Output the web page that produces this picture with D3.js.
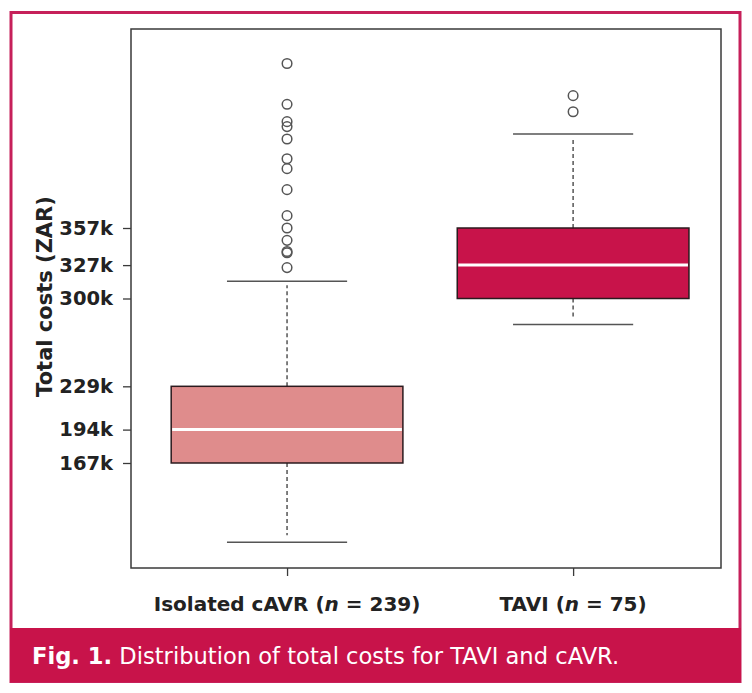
<!DOCTYPE html>
<html><head><meta charset="utf-8">
<script src="https://cdn.jsdelivr.net/npm/d3@7"></script>
<style>
html,body{margin:0;padding:0;background:#fff;}
svg{display:block;font-family:"DejaVu Sans",Arial,Helvetica,sans-serif;}
</style></head>
<body>
<svg id="chart" width="752" height="693"></svg>
<script>
// ---- data (thousand ZAR) ----
const categories = ["Isolated cAVR", "TAVI"];
const sampleSizes = [239, 75];
const q1 = [167, 300];
const medians = [194, 327];
const q3 = [229, 357];
const whiskerLow = [103, 279];
const whiskerHigh = [314, 433];
const outliersCAVR = [490, 457, 443, 439, 429, 413, 405, 388, 367, 357, 347, 338, 337, 325];
const outliersTAVI = [464, 451];
const yTickValues = [167, 194, 229, 300, 327, 357];
const boxColors = ["#df8c8c", "#c8134a"];
const captionBold = "Fig. 1.";
const captionText = " Distribution of total costs for TAVI and cAVR.";
const yLabel = "Total costs (ZAR)";

const outliers = [outliersCAVR, outliersTAVI];
const svg = d3.select("#chart");
const crimson = "#c8134a";
const FONT = "'DejaVu Sans',Arial,sans-serif";

// outer frame and caption band
svg.append("rect").attr("x", 11).attr("y", 12.5).attr("width", 729).attr("height", 669)
  .attr("fill", "none").attr("stroke", "#c6205a").attr("stroke-width", 3);
svg.append("rect").attr("x", 10).attr("y", 628).attr("width", 731).attr("height", 54)
  .attr("fill", crimson);
const cap = svg.append("text").attr("x", 32).attr("y", 664).attr("fill", "#fff")
  .attr("font-size", 22.6).attr("font-family", FONT);
cap.append("tspan").attr("font-weight", "bold").text(captionBold);
cap.append("tspan").text(captionText);

// plot area
const L = 131, R = 721, T = 29, B = 568;
const x = d3.scaleLinear().domain([0.4545, 2.517]).range([L, R]);
const y = d3.scaleLinear().domain([82.1, 517.9]).range([B, T]);
const boxW = 0.81, capW = 0.42;

const g = svg.append("g");

categories.forEach((c, i) => {
  const cx = x(i + 1);
  const grey = "#555";
  // whiskers (dashed)
  g.append("line").attr("x1", cx).attr("x2", cx).attr("y1", y(q3[i])).attr("y2", y(whiskerHigh[i]) + 4)
    .attr("stroke", grey).attr("stroke-width", 1.5).attr("stroke-dasharray", "4,3");
  g.append("line").attr("x1", cx).attr("x2", cx).attr("y1", y(q1[i])).attr("y2", y(whiskerLow[i]) - 7)
    .attr("stroke", grey).attr("stroke-width", 1.5).attr("stroke-dasharray", "4,3");
  // caps
  [whiskerHigh[i], whiskerLow[i]].forEach(v => {
    g.append("line").attr("x1", x(i + 1 - capW / 2)).attr("x2", x(i + 1 + capW / 2))
      .attr("y1", y(v)).attr("y2", y(v)).attr("stroke", grey).attr("stroke-width", 1.5);
  });
  // box
  g.append("rect").attr("x", x(i + 1 - boxW / 2)).attr("width", x(i + 1 + boxW / 2) - x(i + 1 - boxW / 2))
    .attr("y", y(q3[i])).attr("height", y(q1[i]) - y(q3[i]))
    .attr("fill", boxColors[i]).attr("stroke", "#2b1a1e").attr("stroke-width", 1.5);
  // median
  g.append("line").attr("x1", x(i + 1 - boxW / 2) + 1).attr("x2", x(i + 1 + boxW / 2) - 1)
    .attr("y1", y(medians[i])).attr("y2", y(medians[i])).attr("stroke", "#fff").attr("stroke-width", 3);
  // outliers
  g.selectAll(null).data(outliers[i]).enter().append("circle")
    .attr("cx", cx).attr("cy", d => y(d)).attr("r", 4.8)
    .attr("fill", "none").attr("stroke", grey).attr("stroke-width", 1.5);
});

// frame
svg.append("rect").attr("x", L).attr("y", T).attr("width", R - L).attr("height", B - T)
  .attr("fill", "none").attr("stroke", "#3a3a3a").attr("stroke-width", 1.5);

// y axis
const yAxis = svg.append("g").attr("transform", `translate(${L},0)`)
  .call(d3.axisLeft(y).tickValues(yTickValues).tickFormat(d => d + "k").tickSize(8).tickPadding(10));
yAxis.select(".domain").remove();
yAxis.selectAll(".tick line").attr("stroke", "#3a3a3a").attr("stroke-width", 1.3);
yAxis.selectAll(".tick text").attr("font-size", 19.5).attr("font-weight", "bold").attr("fill", "#222")
  .attr("font-family", FONT);

// x axis
const xAxis = svg.append("g").attr("transform", `translate(0,${B})`)
  .call(d3.axisBottom(x).tickValues([1, 2]).tickFormat("").tickSize(8));
xAxis.select(".domain").remove();
xAxis.selectAll(".tick line").attr("stroke", "#3a3a3a").attr("stroke-width", 1.3);

categories.forEach((c, i) => {
  const t = svg.append("text").attr("x", x(i + 1)).attr("y", 611).attr("text-anchor", "middle")
    .attr("font-size", 20).attr("font-weight", "bold").attr("fill", "#222").attr("font-family", FONT);
  t.append("tspan").text(c + " (");
  t.append("tspan").attr("font-style", "italic").text("n");
  t.append("tspan").text(" = " + sampleSizes[i] + ")");
});

// y label
svg.append("text").attr("transform", `translate(52,${(195 + 398) / 2}) rotate(-90)`)
  .attr("text-anchor", "middle").attr("font-size", 21).attr("font-weight", "bold").attr("fill", "#222")
  .attr("font-family", FONT).text(yLabel);
</script>
</body></html>
